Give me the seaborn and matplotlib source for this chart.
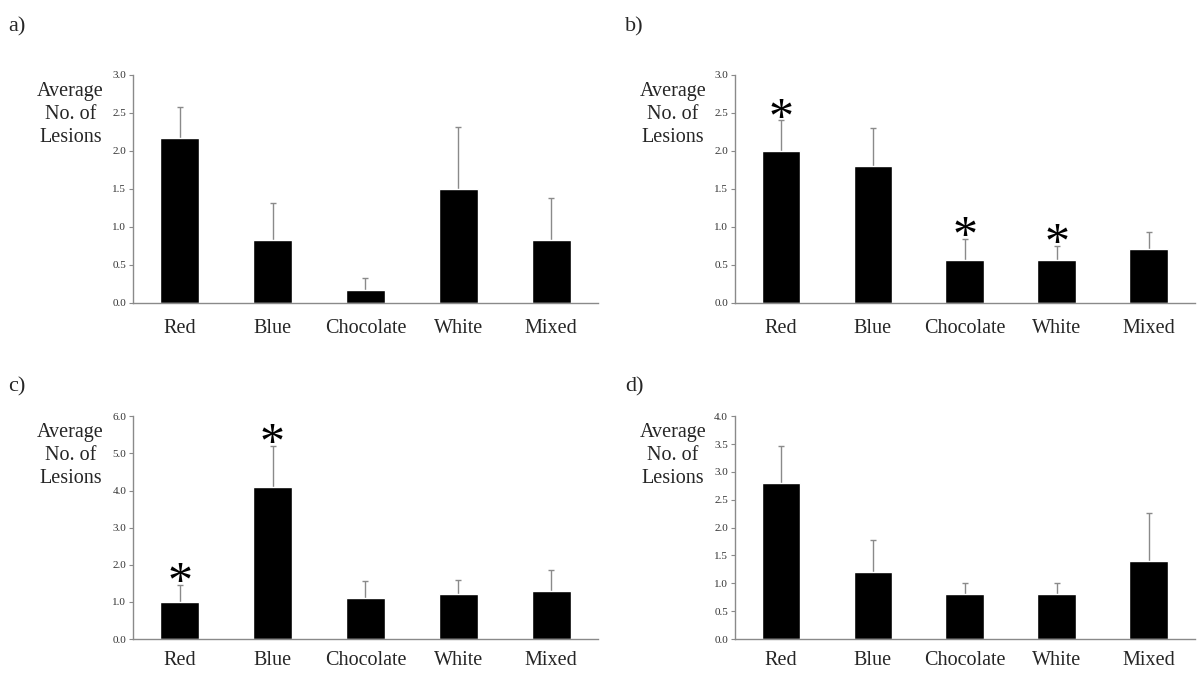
import matplotlib
matplotlib.use("Agg")
import matplotlib.pyplot as plt
import seaborn as sns
import pandas as pd

# data
colours = ["Red", "Blue", "Chocolate", "White", "Mixed"]

mean_a = [2.17, 0.83, 0.17, 1.50, 0.83]
top_a = [2.57, 1.31, 0.33, 2.31, 1.38]
mean_b = [2.00, 1.80, 0.57, 0.57, 0.71]
top_b = [2.40, 2.30, 0.84, 0.75, 0.93]
mean_c = [1.00, 4.10, 1.10, 1.20, 1.30]
top_c = [1.45, 5.20, 1.55, 1.60, 1.85]
mean_d = [2.80, 1.20, 0.80, 0.80, 1.40]
top_d = [3.47, 1.78, 1.00, 1.00, 2.27]

star_b = ["Red", "Chocolate", "White"]
star_c = ["Red", "Blue"]

sns.set_style("white")
plt.rcParams['font.family'] = ['Liberation Serif', 'DejaVu Serif']

fig = plt.figure(figsize=(12, 6.73), dpi=100)

panels = [
    ("a)", mean_a, top_a, [], 3.0, 0.5, [0.111, 0.550, 0.387, 0.339], (0.007, 0.975), 8),
    ("b)", mean_b, top_b, star_b, 3.0, 0.5, [0.6125, 0.550, 0.383, 0.339], (0.521, 0.975), 8),
    ("c)", mean_c, top_c, star_c, 6.0, 1.0, [0.111, 0.0505, 0.387, 0.331], (0.007, 0.44), 5),
    ("d)", mean_d, top_d, [], 4.0, 0.5, [0.6125, 0.0505, 0.383, 0.331], (0.521, 0.44), 5),
]

for lab, means, tops, stars, ymax, step, pos, lpos, xpad in panels:
    ax = fig.add_axes(pos)
    df = pd.DataFrame({"colour": colours, "mean": means, "top": tops})
    df["err"] = df["top"] - df["mean"]
    # error bars drawn underneath, so only the upper half shows above the bar
    ax.errorbar(df["colour"], df["mean"], yerr=df["err"], fmt="none",
                ecolor="#8a8a8a", elinewidth=1, capsize=2, capthick=1, zorder=0.5)
    sns.barplot(data=df, x="colour", y="mean", color="black", width=0.42,
                errorbar=None, saturation=1, ax=ax, zorder=2)
    for s in stars:
        ax.annotate("*", (s, df.loc[df["colour"] == s, "top"].iloc[0]),
                    xytext=(0, -16), textcoords="offset points",
                    ha="center", va="bottom", fontsize=36, color="black")
    ax.set_xlim(-0.5, 4.5)
    ax.set_ylim(0, ymax)
    ticks = [i * step for i in range(int(round(ymax / step)) + 1)]
    ax.set_yticks(ticks)
    ax.set_yticklabels([f"{t:.1f}" for t in ticks], fontsize=8, color="#333333")
    ax.tick_params(axis="y", left=True, length=3, width=0.8, color="#8a8a8a", pad=2)
    ax.tick_params(axis="x", bottom=False, labelsize=14.5, pad=xpad)
    ax.set_xlabel("")
    ax.set_ylabel("")
    for side in ["top", "right"]:
        ax.spines[side].set_visible(False)
    for side in ["left", "bottom"]:
        ax.spines[side].set_color("#8a8a8a")
        ax.spines[side].set_linewidth(1)
        ax.spines[side].set_zorder(3)
    ax.text(-0.135, 0.825, "Average\nNo. of\nLesions", transform=ax.transAxes,
            ha="center", va="center", fontsize=14.5, linespacing=1.3)
    fig.text(lpos[0], lpos[1], lab, ha="left", va="top", fontsize=16)

fig.savefig("out.png", dpi=100, facecolor="white")
